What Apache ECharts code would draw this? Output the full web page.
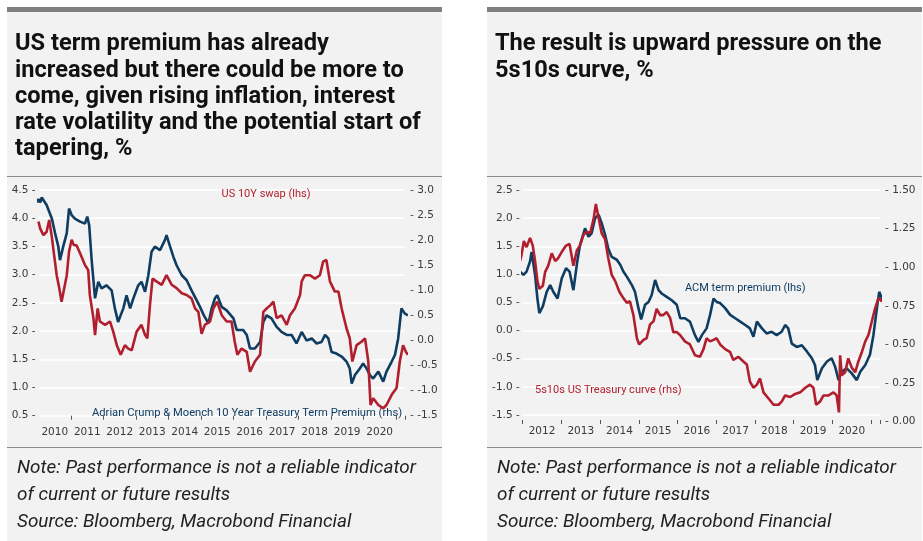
<!DOCTYPE html>
<html><head><meta charset="utf-8">
<script src="https://cdn.jsdelivr.net/npm/echarts/dist/echarts.min.js"></script>
<style>html,body{margin:0;padding:0;background:#fff}#c{width:923px;height:541px}</style>
</head><body><div id="c"></div><script>
// ---------- text ----------
const leftTitle = ['US term premium has already','increased but there could be more to','come, given rising inflation, interest','rate volatility and the potential start of','tapering, %'];
const rightTitle = ['The result is upward pressure on the','5s10s curve, %'];
const noteLines = ['Note: Past performance is not a reliable indicator','of current or future results','Source: Bloomberg, Macrobond Financial'];
const leftSwapName = 'US 10Y swap (lhs)';
const leftTpName = 'Adrian Crump & Moench 10 Year Treasury Term Premium (rhs)';
const rightTpName = 'ACM term premium (lhs)';
const rightCurveName = '5s10s US Treasury curve (rhs)';

// ---------- chart 1: US term premium vs US 10Y swap ----------
const tp1Dates = [2009.95,2010.0,2010.05,2010.1,2010.15,2010.25,2010.41,2010.51,2010.61,2010.66,2010.76,2010.87,2010.94,2011.02,2011.12,2011.28,2011.43,2011.5,2011.56,2011.64,2011.74,2011.84,2011.94,2012.09,2012.25,2012.35,2012.45,2012.61,2012.71,2012.82,2012.92,2013.07,2013.17,2013.28,2013.38,2013.48,2013.58,2013.74,2013.89,2013.94,2014.05,2014.15,2014.25,2014.41,2014.56,2014.71,2014.87,2014.97,2015.09,2015.23,2015.33,2015.43,2015.5,2015.64,2015.79,2016.0,2016.1,2016.3,2016.41,2016.51,2016.66,2016.82,2016.92,2017.02,2017.17,2017.33,2017.48,2017.64,2017.79,2017.94,2018.1,2018.25,2018.41,2018.56,2018.71,2018.82,2018.92,2019.02,2019.17,2019.33,2019.48,2019.58,2019.64,2019.74,2019.89,2019.99,2020.1,2020.2,2020.3,2020.46,2020.61,2020.71,2020.87,2020.97,2021.07,2021.17,2021.27,2021.37];
const tp1Values = [2.75,2.82,2.75,2.85,2.87,2.70,2.43,2.14,1.87,1.60,1.87,2.14,2.63,2.50,2.43,2.37,2.33,2.47,2.30,1.57,0.84,1.17,1.04,1.10,1.00,0.64,0.37,0.64,0.90,0.64,0.84,1.10,1.17,0.97,1.30,1.77,1.87,1.80,2.00,2.10,1.87,1.67,1.50,1.30,1.20,1.00,0.80,0.67,0.50,0.34,0.64,0.84,0.90,0.67,0.60,0.44,0.21,0.21,0.11,-0.16,-0.16,-0.03,0.37,0.50,0.44,0.27,0.17,0.11,0.11,-0.06,0.17,0.00,0.04,-0.06,-0.03,0.11,0.04,-0.23,-0.26,-0.32,-0.42,-0.56,-0.86,-0.69,-0.56,-0.46,-0.56,-0.69,-0.76,-0.62,-0.82,-0.62,-0.42,-0.29,0.04,0.64,0.54,0.50];
const swapDates = [2010.0,2010.05,2010.15,2010.25,2010.33,2010.41,2010.48,2010.56,2010.64,2010.71,2010.76,2010.87,2010.94,2011.02,2011.09,2011.17,2011.28,2011.43,2011.53,2011.58,2011.69,2011.74,2011.82,2011.89,2012.05,2012.2,2012.3,2012.41,2012.53,2012.66,2012.76,2012.87,2013.02,2013.17,2013.28,2013.35,2013.43,2013.51,2013.63,2013.79,2013.94,2014.1,2014.25,2014.41,2014.56,2014.71,2014.82,2014.92,2015.02,2015.12,2015.28,2015.38,2015.5,2015.64,2015.79,2015.94,2016.04,2016.12,2016.25,2016.41,2016.51,2016.66,2016.82,2016.92,2017.02,2017.14,2017.23,2017.33,2017.48,2017.64,2017.74,2017.89,2018.05,2018.1,2018.2,2018.35,2018.51,2018.66,2018.76,2018.86,2018.97,2019.12,2019.23,2019.33,2019.48,2019.58,2019.66,2019.79,2019.94,2020.05,2020.15,2020.22,2020.3,2020.46,2020.61,2020.71,2020.87,2021.02,2021.12,2021.22,2021.31,2021.37];
const swapValues = [3.94,3.82,3.70,3.76,3.97,3.67,3.35,2.99,2.76,2.52,2.55,2.99,3.41,3.62,3.52,3.52,3.38,3.17,3.08,2.64,2.23,1.93,2.40,2.17,2.11,2.17,1.99,1.75,1.58,1.75,1.69,1.66,1.99,2.11,1.93,1.87,2.46,2.93,2.88,2.82,2.99,2.82,2.76,2.67,2.64,2.58,2.40,2.34,1.95,2.11,2.17,2.40,2.52,2.28,2.17,2.17,1.81,1.58,1.69,1.63,1.28,1.46,1.58,2.34,2.40,2.46,2.52,2.23,2.28,2.11,2.28,2.40,2.64,2.88,2.99,2.99,2.93,2.99,3.23,3.26,2.88,2.70,2.70,2.40,2.05,1.87,1.46,1.75,1.81,1.87,1.46,0.69,0.81,0.69,0.63,0.69,0.87,0.99,1.46,1.75,1.63,1.58];

// ---------- chart 2: ACM term premium vs 5s10s ----------
const tp2Dates = [2011.93,2012.02,2012.1,2012.19,2012.23,2012.32,2012.38,2012.43,2012.52,2012.62,2012.71,2012.79,2012.9,2013.01,2013.12,2013.21,2013.31,2013.41,2013.48,2013.61,2013.7,2013.78,2013.87,2013.96,2014.04,2014.13,2014.21,2014.3,2014.43,2014.52,2014.6,2014.69,2014.82,2014.9,2014.99,2015.06,2015.16,2015.25,2015.33,2015.42,2015.51,2015.59,2015.72,2015.85,2015.98,2016.07,2016.19,2016.32,2016.45,2016.54,2016.63,2016.75,2016.84,2016.93,2017.01,2017.1,2017.23,2017.36,2017.49,2017.62,2017.75,2017.87,2017.96,2018.05,2018.18,2018.3,2018.43,2018.56,2018.69,2018.78,2018.86,2018.95,2019.08,2019.21,2019.34,2019.47,2019.55,2019.61,2019.73,2019.86,2019.98,2020.07,2020.16,2020.24,2020.37,2020.5,2020.63,2020.72,2020.85,2020.97,2021.06,2021.15,2021.21,2021.28,2021.34];
const tp2Values = [1.05,0.99,1.05,1.23,1.40,0.99,0.57,0.31,0.43,0.69,0.81,0.69,0.57,0.93,1.11,1.05,0.72,1.23,1.52,1.82,1.67,1.73,2.00,2.06,1.91,1.70,1.46,1.31,1.26,1.17,1.05,0.96,0.81,0.69,0.40,0.20,0.46,0.51,0.63,0.90,0.72,0.66,0.60,0.54,0.46,0.22,0.22,0.16,-0.08,-0.20,-0.08,0.04,0.28,0.57,0.51,0.49,0.40,0.28,0.22,0.16,0.10,0.04,-0.11,0.16,0.04,-0.05,-0.02,-0.08,-0.02,0.10,0.04,-0.23,-0.29,-0.26,-0.37,-0.49,-0.61,-0.88,-0.67,-0.55,-0.49,-0.64,-0.88,-0.73,-0.67,-0.76,-0.88,-0.73,-0.61,-0.43,-0.08,0.40,0.69,0.57,0.57];
const curveDates = [2011.93,2011.97,2012.03,2012.1,2012.19,2012.26,2012.32,2012.38,2012.43,2012.52,2012.58,2012.66,2012.75,2012.84,2012.92,2013.01,2013.12,2013.21,2013.31,2013.4,2013.48,2013.57,2013.65,2013.74,2013.83,2013.89,2013.96,2014.04,2014.13,2014.21,2014.3,2014.39,2014.5,2014.6,2014.69,2014.77,2014.86,2014.95,2015.01,2015.12,2015.2,2015.29,2015.38,2015.46,2015.55,2015.63,2015.72,2015.81,2015.89,2015.98,2016.07,2016.19,2016.32,2016.45,2016.58,2016.67,2016.75,2016.84,2016.93,2017.01,2017.1,2017.23,2017.36,2017.44,2017.57,2017.7,2017.79,2017.87,2017.96,2018.05,2018.13,2018.22,2018.35,2018.48,2018.61,2018.69,2018.78,2018.91,2019.04,2019.17,2019.3,2019.42,2019.51,2019.58,2019.68,2019.77,2019.9,2020.03,2020.11,2020.17,2020.2,2020.24,2020.33,2020.41,2020.5,2020.59,2020.67,2020.76,2020.85,2020.93,2021.02,2021.1,2021.19,2021.28,2021.34];
const curveValues = [1.04,1.08,1.17,1.13,1.19,1.14,1.04,0.91,0.86,0.88,0.97,1.01,1.09,1.04,1.06,1.10,1.14,1.15,1.01,1.11,1.14,1.21,1.23,1.22,1.31,1.41,1.32,1.22,1.18,1.06,0.95,0.91,0.84,0.80,0.77,0.78,0.69,0.54,0.50,0.53,0.54,0.63,0.65,0.73,0.69,0.69,0.71,0.67,0.58,0.58,0.56,0.52,0.50,0.43,0.42,0.47,0.54,0.52,0.53,0.54,0.50,0.47,0.45,0.40,0.42,0.39,0.37,0.26,0.22,0.24,0.28,0.19,0.15,0.11,0.11,0.13,0.17,0.16,0.18,0.19,0.22,0.24,0.22,0.11,0.13,0.17,0.17,0.19,0.17,0.06,0.43,0.30,0.32,0.41,0.35,0.32,0.39,0.45,0.52,0.56,0.65,0.73,0.80,0.78,0.82];

// ---------- build ----------
const zip = (xs, ys) => xs.map((x, i) => [x, ys[i]]);
const BLUE = '#0f3d62', RED = '#b11e2d', AX = '#3a3a3a';
const axFont = {fontFamily: 'DejaVu Sans', fontSize: 10.5, color: AX};
const yearLabel = v => (Math.abs(v - Math.floor(v) - 0.5) < 0.01 ? String(Math.floor(v)) : '');

function panel(x0, title, notes) {
  const els = [
    {type: 'rect', shape: {x: x0, y: 7, width: 435, height: 534}, style: {fill: '#f2f2f2'}, z: -100},
    {type: 'rect', shape: {x: x0, y: 7, width: 435, height: 5}, style: {fill: '#808080'}, z: -99},
    {type: 'rect', shape: {x: x0, y: 176, width: 435, height: 1}, style: {fill: '#8c8c8c'}, z: -99},
    {type: 'rect', shape: {x: x0, y: 447, width: 435, height: 1}, style: {fill: '#8c8c8c'}, z: -99}
  ];
  title.forEach((t, i) => els.push({type: 'text', x: x0 + 8, y: 44.5 + i * 26.1, z: 50,
    style: {text: t, fill: '#111', font: 'bold 23.6px Roboto', textVerticalAlign: 'middle'}}));
  notes.forEach((t, i) => els.push({type: 'text', x: x0 + 10, y: 468 + i * 27, z: 50,
    style: {text: t, fill: '#222', font: 'italic 18.9px Roboto', textVerticalAlign: 'middle'}}));
  return els;
}

const graphic = [].concat(
  panel(7, leftTitle, noteLines),
  panel(487, rightTitle, noteLines),
  [
    {type: 'text', x: 266, y: 194, z: 1, style: {text: leftSwapName, fill: RED, font: '11px Roboto', textAlign: 'center', textVerticalAlign: 'middle'}},
    {type: 'text', x: 92, y: 413, z: 1, style: {text: leftTpName, fill: BLUE, font: '11.2px Roboto', textVerticalAlign: 'middle'}},
    {type: 'text', x: 685, y: 288, z: 1, style: {text: rightTpName, fill: BLUE, font: '11px Roboto', textVerticalAlign: 'middle'}},
    {type: 'text', x: 535, y: 390, z: 1, style: {text: rightCurveName, fill: RED, font: '11px Roboto', textVerticalAlign: 'middle'}}
  ]
);

const hidden = {show: false};
const option = {
  animation: false,
  backgroundColor: '#ffffff',
  graphic: graphic,
  grid: [
    {left: 38.5, right: 518, top: 190, height: 225.7},
    {left: 71, right: 518, top: 190, height: 225.7},
    {left: 522.7, right: 43, top: 190, height: 225},
    {left: 522.7, right: 43, top: 190, height: 231.7}
  ],
  xAxis: [
    {type: 'value', gridIndex: 0, min: 2010, max: 2021.28, interval: 0.5, position: 'bottom', offset: 5,
      axisLine: hidden, axisTick: hidden, splitLine: hidden,
      axisLabel: Object.assign({formatter: yearLabel, margin: 6, showMinLabel: true, showMaxLabel: true}, axFont)},
    {type: 'value', gridIndex: 1, min: 2011, max: 2021.28, interval: 1, position: 'bottom', offset: 5,
      axisLine: hidden, splitLine: hidden, axisLabel: hidden,
      axisTick: {show: true, length: 4, lineStyle: {color: '#555', width: 1}}},
    {type: 'value', gridIndex: 2, min: 2012, max: 2021.23, interval: 0.5, position: 'bottom', offset: 5,
      axisLine: hidden, axisTick: hidden, splitLine: hidden,
      axisLabel: Object.assign({formatter: yearLabel, margin: 6}, axFont)},
    {type: 'value', gridIndex: 2, min: 2012, max: 2021.23, interval: 1, position: 'bottom', offset: 5,
      axisLine: hidden, splitLine: hidden, axisLabel: hidden,
      axisTick: {show: true, length: 4, lineStyle: {color: '#555', width: 1}}},
    {type: 'value', gridIndex: 3, min: 2012, max: 2021.23, show: false}
  ],
  yAxis: [
    {type: 'value', gridIndex: 0, position: 'left', min: 0.5, max: 4.5, interval: 0.5,
      axisLine: hidden, axisTick: hidden,
      splitLine: {show: true, lineStyle: {color: '#ffffff', width: 1.5}},
      axisLabel: Object.assign({formatter: v => v.toFixed(1) + ' -', margin: 3}, axFont)},
    {type: 'value', gridIndex: 0, position: 'right', min: -1.5, max: 3.0, interval: 0.5,
      axisLine: hidden, axisTick: hidden, splitLine: hidden,
      axisLabel: Object.assign({formatter: v => '- ' + v.toFixed(1), margin: 5}, axFont)},
    {type: 'value', gridIndex: 1, min: 0, max: 1, show: false},
    {type: 'value', gridIndex: 2, position: 'left', min: -1.5, max: 2.5, interval: 0.5,
      axisLine: hidden, axisTick: hidden,
      splitLine: {show: true, lineStyle: {color: '#ffffff', width: 1.5}},
      axisLabel: Object.assign({formatter: v => v.toFixed(1) + ' -', margin: 3}, axFont)},
    {type: 'value', gridIndex: 3, position: 'right', min: 0, max: 1.5, interval: 0.25,
      axisLine: hidden, axisTick: hidden, splitLine: hidden,
      axisLabel: Object.assign({formatter: v => '- ' + v.toFixed(2), margin: 5}, axFont)}
  ],
  series: [
    {type: 'line', name: leftTpName, xAxisIndex: 0, yAxisIndex: 1, data: zip(tp1Dates, tp1Values), showSymbol: false, clip: false,
      lineStyle: {color: BLUE, width: 2.6}, itemStyle: {color: BLUE}, z: 3},
    {type: 'line', name: leftSwapName, xAxisIndex: 0, yAxisIndex: 0, data: zip(swapDates, swapValues), showSymbol: false, clip: false,
      lineStyle: {color: RED, width: 2.6}, itemStyle: {color: RED}, z: 4},
    {type: 'line', name: rightTpName, xAxisIndex: 2, yAxisIndex: 3, data: zip(tp2Dates, tp2Values), showSymbol: false, clip: false,
      lineStyle: {color: BLUE, width: 2.6}, itemStyle: {color: BLUE}, z: 3},
    {type: 'line', name: rightCurveName, xAxisIndex: 4, yAxisIndex: 4, data: zip(curveDates, curveValues), showSymbol: false, clip: false,
      lineStyle: {color: RED, width: 2.6}, itemStyle: {color: RED}, z: 4}
  ]
};
const chart = echarts.init(document.getElementById('c'), null, {renderer: 'canvas'});
chart.setOption(option);
</script></body></html>
